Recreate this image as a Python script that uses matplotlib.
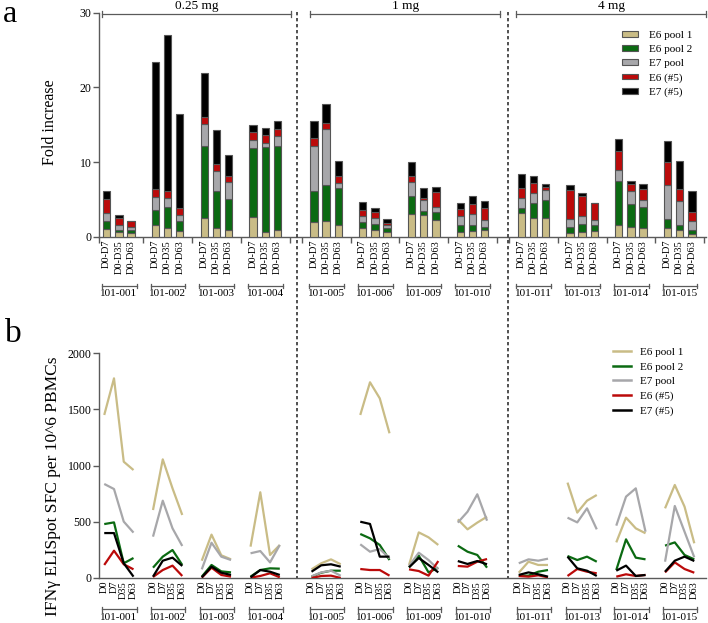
import numpy as np
import matplotlib
matplotlib.use("Agg")
import matplotlib.pyplot as plt
from matplotlib.patches import Patch
from matplotlib.lines import Line2D
from matplotlib.transforms import blended_transform_factory

plt.rcParams["font.family"] = "serif"
plt.rcParams["font.serif"] = ["Liberation Serif", "DejaVu Serif"]

# ---- data ----
patients = ["101-001", "101-002", "101-003", "101-004", "101-005", "101-006",
            "101-009", "101-010", "101-011", "101-013", "101-014", "101-015"]
doses = ["0.25 mg", "1 mg", "4 mg"]
fold_times = ["D0-D7", "D0-D35", "D0-D63"]
sfc_times = ["D0", "D7", "D35", "D63"]
series = ["E6 pool 1", "E6 pool 2", "E7 pool", "E6 (#5)", "E7 (#5)"]
colors = ["#c9bc86", "#0b6a12", "#a7a7aa", "#bb0a0a", "#000000"]

# fold increase, stacked segments (3 per patient)
e6p1_fold = [1.1, 0.67, 0.53, 1.65, 1.2, 0.85, 2.5, 1.25, 1.0, 2.7, 0.67, 1.0,
             1.95, 2.1, 1.55, 1.15, 1.0, 0.7, 3.1, 2.9, 2.3, 0.7, 0.85, 0.95,
             3.15, 2.6, 2.5, 0.6, 0.7, 0.75, 1.6, 1.35, 1.15, 1.15, 0.9, 0.35]
e6p2_fold = [1.1, 0.33, 0.47, 2.0, 2.8, 1.35, 9.7, 4.85, 4.1, 9.2, 11.33, 11.2,
             4.25, 4.9, 5.05, 0.85, 0.8, 0.45, 2.35, 0.6, 1.05, 0.85, 0.7, 0.35,
             0.75, 2.0, 2.4, 0.8, 1.05, 0.8, 5.9, 3.1, 2.9, 1.25, 0.7, 0.65]
e7p_fold = [0.95, 0.55, 0.4, 1.75, 1.2, 0.8, 2.9, 2.7, 2.2, 1.1, 0.6, 1.3,
            6.0, 7.4, 0.6, 0.8, 0.8, 0.5, 1.95, 1.4, 0.65, 1.25, 1.55, 1.0,
            1.35, 1.25, 1.4, 0.95, 1.05, 0.75, 1.5, 1.75, 0.85, 4.5, 3.15, 1.2]
e6_5_fold = [1.95, 0.95, 0.7, 1.0, 1.0, 0.9, 0.9, 1.0, 0.9, 1.0, 1.0, 0.9,
             1.1, 0.9, 0.9, 0.75, 0.8, 0.2, 0.8, 0.25, 2.0, 0.9, 1.35, 1.6,
             1.35, 1.35, 0.35, 3.95, 2.7, 2.2, 2.5, 0.9, 1.55, 3.1, 1.7, 1.1]
e7_5_fold = [1.1, 0.4, 0.1, 17.0, 20.8, 12.6, 6.0, 4.5, 2.8, 1.0, 1.0, 1.15,
             2.25, 2.5, 2.1, 1.1, 0.45, 0.55, 1.8, 1.45, 0.65, 0.9, 1.05, 0.85,
             1.85, 0.9, 0.4, 0.6, 0.4, 0.1, 1.65, 0.45, 0.6, 2.9, 3.65, 2.8]

# SFC per 10^6 PBMCs (4 per patient)
e6p1_sfc = [1451, 1777, 1035, 961, 605, 1056, 798, 561, 154, 386, 202, 166,
            279, 763, 205, 294, 77, 131, 166, 122, 1451, 1742, 1599, 1288,
            116, 406, 362, 294, 522, 433, 493, 546, 47, 145, 116, 116,
            849, 582, 688, 739, 317, 537, 442, 398, 620, 828, 635, 309]
e6p2_sfc = [480, 495, 131, 178, 92, 190, 249, 116, 12, 116, 59, 50,
            12, 71, 86, 83, 12, 47, 65, 65, 392, 353, 294, 160,
            95, 199, 50, 92, 288, 234, 205, 92, 21, 21, 56, 71,
            196, 160, 190, 145, 71, 344, 181, 166, 288, 317, 205, 166]
e7p_sfc = [837, 792, 502, 404, 368, 688, 442, 285, 77, 314, 190, 160,
           220, 240, 139, 294, 15, 50, 65, 20, 300, 234, 258, 175,
           107, 225, 160, 77, 493, 590, 745, 510, 131, 166, 154, 172,
           537, 495, 620, 433, 466, 724, 798, 412, 145, 641, 412, 184]
e6_5_sfc = [116, 243, 122, 77, 9, 71, 110, 18, 3, 92, 27, 12,
            3, 18, 42, 6, 0, 18, 21, 0, 80, 71, 71, 21,
            77, 62, 21, 151, 107, 101, 145, 169, 18, 12, 24, 6,
            18, 80, 56, 42, 12, 33, 18, 27, 50, 139, 80, 47]
e7_5_sfc = [400, 400, 131, 12, 12, 154, 181, 107, 6, 101, 47, 27,
            6, 71, 56, 27, 56, 113, 122, 101, 501, 481, 190, 190,
            95, 178, 116, 50, 151, 125, 151, 122, 27, 50, 33, 12,
            190, 86, 65, 18, 65, 110, 18, 27, 56, 154, 190, 151]

fold = [e6p1_fold, e6p2_fold, e7p_fold, e6_5_fold, e7_5_fold]
sfc = [e6p1_sfc, e6p2_sfc, e7p_sfc, e6_5_sfc, e7_5_sfc]

# ---- layout ----
W, H = 708, 623
def fx(p): return p / W
def fy(p): return 1 - p / H

axcol = "#5a5a5a"
fig = plt.figure(figsize=(W / 100, H / 100), dpi=100)
ax1 = fig.add_axes([fx(99), fy(237), fx(706) - fx(99), fy(12.7) - fy(237)])
ax2 = fig.add_axes([fx(99), fy(578), fx(706) - fx(99), fy(353.3) - fy(578)])

npat = len(patients)
gstart = np.arange(npat) * 4 + np.repeat([0, 1, 2], 4)
bar_x = (gstart[:, None] + np.arange(3)[None, :]).ravel()
pt_x = ((gstart + 1)[:, None] + (np.arange(4) - 1.5)[None, :] * 0.8)
xlim = (-0.63, 49.16)

# panel a: stacked bars
bottom = np.zeros(len(bar_x))
for vals, c in zip(fold, colors):
    ax1.bar(bar_x, vals, bottom=bottom, width=0.6, color=c,
            edgecolor="#555555", linewidth=0.8, zorder=3)
    bottom += np.array(vals)

# panel b: lines
for vals, c in zip(sfc, colors):
    v = np.array(vals).reshape(npat, 4)
    for i in range(npat):
        ax2.plot(pt_x[i], v[i], color=c, lw=1.6, solid_capstyle="butt", zorder=3)

for ax in (ax1, ax2):
    ax.set_xlim(*xlim)
    for s in ("top", "right"):
        ax.spines[s].set_visible(False)
    for s in ("left", "bottom"):
        ax.spines[s].set_color(axcol)
        ax.spines[s].set_linewidth(1.0)
    ax.tick_params(axis="y", direction="out", length=4, width=1.0, color=axcol,
                   labelsize=8.5, pad=1.5)

ax1.set_ylim(0, 30)
ax1.set_yticks([0, 10, 20, 30])
ax2.set_ylim(0, 2000)
ax2.set_yticks([0, 500, 1000, 1500, 2000])

# x ticks
bounds = sorted(set(list(gstart - 1) + list(gstart + 3) + [xlim[0]]))
bounds = [b for b in bounds if b >= xlim[0]]
ax1.set_xticks(bounds)
ax1.set_xticklabels([])
ax1.tick_params(axis="x", which="major", direction="out", length=4,
                width=1.0, color=axcol)
ax1.set_xticks(bar_x, fold_times * npat, minor=True)
ax1.tick_params(axis="x", which="minor", length=0, pad=2, labelsize=7.5,
                labelrotation=90)

ax2.set_xticks([])
ax2.set_xticks(pt_x.ravel(), sfc_times * npat, minor=True)
ax2.tick_params(axis="x", which="minor", length=0, pad=2, labelsize=7.5,
                labelrotation=90)

fig.text(fx(50), fy(122), "Fold increase", fontsize=11.5, rotation=90,
         ha="center", va="center")
fig.text(fx(53), fy(486), "IFN\u03b3 ELISpot SFC per 10^6 PBMCs", fontsize=12.5,
         rotation=90, ha="center", va="center")

# patient brackets below each panel
def bracket(ax, x0, x1, ypx, cap=2.5):
    tr = blended_transform_factory(ax.transData, fig.transFigure)
    ax.plot([x0, x1], [fy(ypx), fy(ypx)], color=axcol, lw=0.9,
            transform=tr, clip_on=False)
    for xx in (x0, x1):
        ax.plot([xx, xx], [fy(ypx - cap), fy(ypx + cap)], color=axcol, lw=0.9,
                transform=tr, clip_on=False)
    return tr

for i, p in enumerate(patients):
    c = gstart[i] + 1
    tr = bracket(ax1, c - 1.4, c + 1.45, 286)
    ax1.text(c, fy(289.5), p, transform=tr, ha="center", va="top", fontsize=8)
    tr = bracket(ax2, c - 1.35, c + 1.45, 609)
    ax2.text(c, fy(612.5), p, transform=tr, ha="center", va="top", fontsize=8)

# dose brackets on top
dose_spans = [(-0.4, 15.1), (16.7, 32.3), (33.6, 49.2)]
for (x0, x1), d in zip(dose_spans, doses):
    tr = bracket(ax1, x0, x1, 14, cap=3)
    ax1.text((x0 + x1) / 2, fy(12.5), d, transform=tr, ha="center",
             va="bottom", fontsize=9.5)

# dashed separators spanning both panels
trd = blended_transform_factory(ax1.transData, fig.transFigure)
for xs in (15.6, 32.9):
    fig.add_artist(Line2D([xs, xs], [fy(12), fy(578)], transform=trd,
                          color="#333333", lw=1.2, linestyle=(0, (2, 1.6))))

# legends
h1 = [Patch(facecolor=c, edgecolor="#555555", linewidth=0.8) for c in colors]
ax1.legend(h1, series, loc="upper left", bbox_to_anchor=(fx(622), fy(31)),
           bbox_transform=fig.transFigure, frameon=False, fontsize=8,
           handlelength=1.4, handleheight=0.4, handletextpad=1.0,
           labelspacing=0.45, borderpad=0, borderaxespad=0)
h2 = [Line2D([], [], color=c, lw=1.8) for c in colors]
ax2.legend(h2, series, loc="upper left", bbox_to_anchor=(fx(613), fy(347)),
           bbox_transform=fig.transFigure, frameon=False, fontsize=8,
           handlelength=1.6, handletextpad=0.8,
           labelspacing=0.45, borderpad=0, borderaxespad=0)

fig.text(fx(3), fy(22), "a", fontsize=23, ha="left", va="baseline")
fig.text(fx(5), fy(342), "b", fontsize=24, ha="left", va="baseline")

fig.savefig("out.png", dpi=100)
